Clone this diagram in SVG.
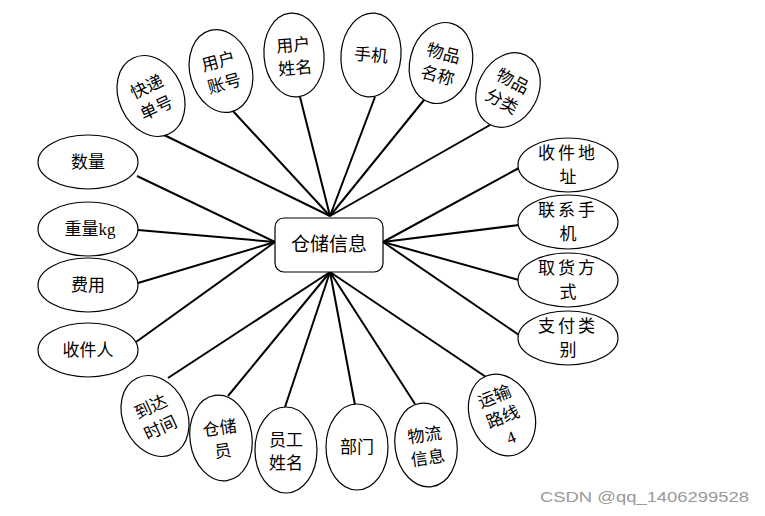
<svg xmlns="http://www.w3.org/2000/svg" width="765" height="516" viewBox="0 0 765 516">
<style>
.e{fill:#fff;stroke:#000;stroke-width:1.2}
.t{font-family:"Liberation Serif","Noto Sans CJK SC",serif;font-size:17px;text-anchor:middle;fill:#000}
.c line{stroke:#000;stroke-width:2}
</style>
<rect width="765" height="516" fill="#fff"/>
<g class="c">
<line x1="160" y1="133" x2="330" y2="216"/>
<line x1="232" y1="110" x2="330" y2="216"/>
<line x1="300" y1="97" x2="330" y2="216"/>
<line x1="375" y1="97" x2="330" y2="216"/>
<line x1="424" y1="100" x2="330" y2="216"/>
<line x1="490" y1="125" x2="330" y2="216"/>
<line x1="519" y1="168" x2="383" y2="242"/>
<line x1="519" y1="225" x2="383" y2="242"/>
<line x1="519" y1="280" x2="383" y2="242"/>
<line x1="519" y1="335" x2="383" y2="242"/>
<line x1="137" y1="176" x2="275" y2="242"/>
<line x1="138" y1="230" x2="275" y2="242"/>
<line x1="138" y1="283" x2="275" y2="242"/>
<line x1="136" y1="342" x2="275" y2="242"/>
<line x1="168" y1="378" x2="330" y2="272"/>
<line x1="228" y1="396" x2="330" y2="272"/>
<line x1="285" y1="407" x2="330" y2="272"/>
<line x1="355" y1="405" x2="330" y2="272"/>
<line x1="415" y1="404" x2="330" y2="272"/>
<line x1="486" y1="377" x2="330" y2="272"/>
</g>
<g id="center"><rect x="275" y="218" width="108" height="54" rx="9" class="e"/><text x="329" y="251" class="t" style="font-size:19px">仓储信息</text></g>
<g id="n1" transform="translate(151,96) rotate(-25)"><ellipse rx="32" ry="42" class="e"/><text y="-4" class="t">快递</text><text y="19" class="t">单号</text></g>
<g id="n2" transform="translate(221,71) rotate(-15)"><ellipse rx="31" ry="42" class="e"/><text y="-4" class="t">用户</text><text y="19" class="t">账号</text></g>
<g id="n3" transform="translate(294,55) rotate(-5)"><ellipse rx="30" ry="42" class="e"/><text y="-4" class="t">用户</text><text y="19" class="t">姓名</text></g>
<g id="n4" transform="translate(371,55) rotate(5)"><ellipse rx="30" ry="42" class="e"/><text y="6" class="t">手机</text></g>
<g id="n5" transform="translate(441,63) rotate(15)"><ellipse rx="31" ry="41" class="e"/><text y="-4" class="t">物品</text><text y="19" class="t">名称</text></g>
<g id="n6" transform="translate(508,90) rotate(28)"><ellipse rx="30" ry="39" class="e"/><text y="-4" class="t">物品</text><text y="19" class="t">分类</text></g>
<g id="n7"><ellipse cx="568" cy="165" rx="50" ry="27" class="e"/><text x="568" y="159" class="t" style="letter-spacing:3px">收件地</text><text x="568" y="183" class="t">址</text></g>
<g id="n8"><ellipse cx="568" cy="222" rx="50" ry="27" class="e"/><text x="568" y="216" class="t" style="letter-spacing:3px">联系手</text><text x="568" y="240" class="t">机</text></g>
<g id="n9"><ellipse cx="568" cy="280" rx="50" ry="27" class="e"/><text x="568" y="274" class="t" style="letter-spacing:3px">取货方</text><text x="568" y="298" class="t">式</text></g>
<g id="n10"><ellipse cx="568" cy="338" rx="50" ry="27" class="e"/><text x="568" y="332" class="t" style="letter-spacing:3px">支付类</text><text x="568" y="356" class="t">别</text></g>
<g id="n11"><ellipse cx="88" cy="162" rx="50" ry="27" class="e"/><text x="88" y="168" class="t">数量</text></g>
<g id="n12"><ellipse cx="88" cy="229" rx="50" ry="27" class="e"/><text x="90" y="235" class="t">重量kg</text></g>
<g id="n13"><ellipse cx="88" cy="285" rx="50" ry="27" class="e"/><text x="88" y="291" class="t">费用</text></g>
<g id="n14"><ellipse cx="88" cy="350" rx="50" ry="27" class="e"/><text x="88" y="356" class="t">收件人</text></g>
<g id="n15" transform="translate(155,416) rotate(-25)"><ellipse rx="32" ry="42" class="e"/><text y="-4" class="t">到达</text><text y="19" class="t">时间</text></g>
<g id="n16" transform="translate(221,438) rotate(-8)"><ellipse rx="31" ry="43" class="e"/><text y="-4" class="t">仓储</text><text y="19" class="t">员</text></g>
<g id="n17" transform="translate(286,450)"><ellipse rx="31" ry="43" class="e"/><text y="-4" class="t">员工</text><text y="19" class="t">姓名</text></g>
<g id="n18" transform="translate(357,447)"><ellipse rx="31" ry="43" class="e"/><text y="6" class="t">部门</text></g>
<g id="n19" transform="translate(426,445) rotate(-8)"><ellipse rx="31" ry="42" class="e"/><text y="-4" class="t">物流</text><text y="19" class="t">信息</text></g>
<g id="n20" transform="translate(502,415) rotate(-22)"><ellipse rx="32" ry="42" class="e"/><text y="-14" class="t">运输</text><text y="8" class="t">路线</text><text y="30" class="t">4</text></g>
<text x="540" y="502" textLength="209" lengthAdjust="spacingAndGlyphs" style="font-family:'Liberation Sans','Noto Sans CJK SC',sans-serif;font-size:15px;fill:#999">CSDN @qq_1406299528</text>
</svg>
